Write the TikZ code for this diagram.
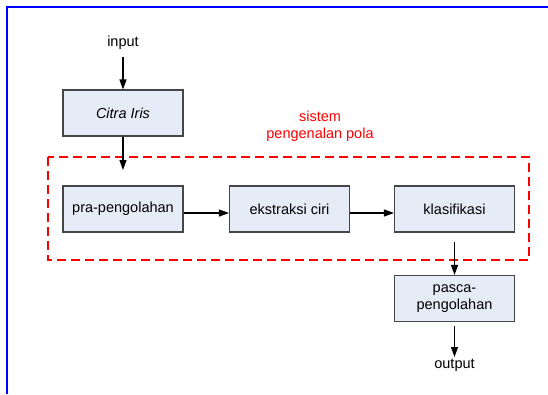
\documentclass[tikz,border=0pt]{standalone}
\usepackage{fontspec}
\setmainfont{Liberation Sans}
\usetikzlibrary{arrows.meta}
\definecolor{boxfill}{RGB}{230,236,247}
\definecolor{boxdraw}{RGB}{70,70,70}
\tikzset{
  pbox/.style={draw=boxdraw, fill=boxfill, line width=1.1pt, minimum width=120pt, minimum height=46pt, inner sep=0pt, align=center, font=\fontsize{14.5}{17}\selectfont},
  lbl/.style={inner sep=0pt, font=\fontsize{14.5}{17}\selectfont},
  arr/.style={line width=1.1pt, -{Triangle[length=10pt,width=7pt]}},
}
\begin{document}
\begin{tikzpicture}[x=1pt,y=-1pt]
\useasboundingbox (0,0) rectangle (548,394);
\draw[blue, line width=2pt] (6.5,394) -- (6.5,6.5) -- (548,6.5);
\draw[red, dashed, dash pattern=on 9pt off 5pt, line width=1.2pt] (48,157) rectangle (529,260);
\node[lbl, text=red, align=center] (sys) at (320,126) {sistem\\pengenalan pola};
\node[lbl] (in) at (123,43) {input};
\node[pbox] (citra) at (123,113) {\itshape Citra Iris};
\node[pbox] (pra) at (123,209) {pra-pengolahan};
\node[pbox] (eks) at (289.5,209) {ekstraksi ciri};
\node[pbox] (kla) at (454.5,209) {klasifikasi};
\node[pbox] (pas) at (454.5,298.5) {pasca-\\pengolahan};
\node[lbl] (out) at (454.5,365) {output};
\coordinate (c1) at (123,57);
\coordinate (c2) at (123,170);
\coordinate (c3) at (454.5,242);
\coordinate (c4) at (454.5,326);
\coordinate (c5) at (454.5,357);
\draw[arr] (c1) -- (citra.north);
\draw[arr] (citra.south) -- (c2);
\draw[arr] (pra.east |- 0,213) -- (eks.west |- 0,213);
\draw[arr] (eks.east |- 0,213) -- (kla.west |- 0,213);
\draw[arr] (c3) -- (pas.north);
\draw[arr] (c4) -- (c5);
\end{tikzpicture}
\end{document}
